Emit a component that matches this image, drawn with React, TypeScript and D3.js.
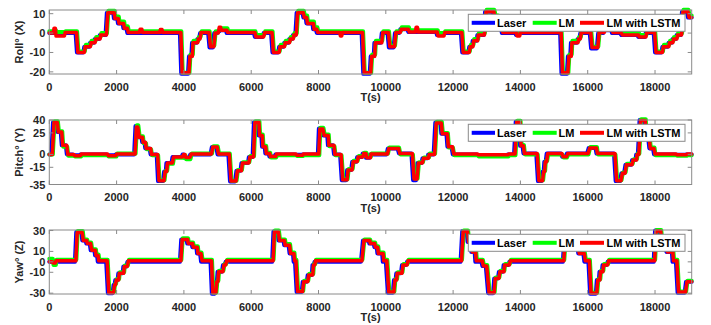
import React from "react";
import * as d3 from "d3";

// ---------- DATA (plateaus: [tStart, tEnd]) ----------
const xTicks = [0, 2000, 4000, 6000, 8000, 10000, 12000, 14000, 16000, 18000];
const xMax = 19090;
// time lag (s) of each estimate relative to the laser reference
const seriesLag = [0, 45, 30];

const rollTimes = [[0,90],[110,150],[170,420],[440,780],[820,1010],[1040,1190],[1210,1330],[1350,1480],[1500,1670],[1710,1900],[1920,2020],[2040,2180],[2200,2290],[2320,2650],[2670,2720],[2740,3250],[3270,3320],[3340,3880],[3920,4120],[4150,4220],[4240,4380],[4400,4450],[4480,4720],[4760,4860],[4900,4990],[5020,5060],[5080,5250],[5270,6080],[6110,6340],[6370,6590],[6630,6800],[6830,6960],[6980,7110],[7130,7220],[7240,7310],[7350,7520],[7550,7620],[7640,7820],[7840,7920],[7950,8600],[8620,8660],[8680,9280],[9330,9520],[9550,9640],[9660,9850],[9880,10050],[10090,10230],[10270,10400],[10430,10640],[10670,10850],[10870,10910],[10930,11500],[11520,11700],[11720,12230],[12270,12450],[12480,12560],[12580,12700],[12720,12900],[12950,13180],[13220,13300],[13320,13400],[13450,13850],[13870,13950],[13970,15180],[15220,15380],[15410,15480],[15500,15680],[15700,15750],[15780,16060],[16100,16270],[16310,16460],[16480,16700],[16720,16960],[17000,17480],[17500,17700],[17720,17960],[18000,18190],[18220,18380],[18400,18500],[18520,18620],[18640,18760],[18800,18950],[18980,19090]];
const rollLaser = [0,0,0,0,-10,-7,-5,-3,-1,10.5,7.5,5,2.5,0,0,0,0,0,-21,-12,-5,-3,0,-7.5,0,1,1.5,0,-2,0,-10,-7,-5,-3,-1,10.5,8,5,2,0,0,0,-21,-12,-5,0,-7.5,0,2,0.5,0.5,0.5,-1,0,-10,-7,-4,-1,11,8,4,0,-1,0,-21,-12,-5,-3,0,-8,0,1.5,0,-1,-2,0,-10,-7,-5,-3,-1,11,8];
const rollLM = [1,1.5,0.5,1,-9.5,-6,-4,-2,0,11.5,8.5,6,3.5,1,1,1,1,1,-20.5,-11,-4,-2,1,-6.5,1,2,2.5,1,-1,1,-9.5,-6,-4,-2,0,11.5,9,6,3,1,1,1,-20.5,-11,-4,1,-6.5,1,3,1.5,1.5,1.5,0,1,-9.5,-6,-3,0,12,9,5,1,0,1,-20.5,-11,-4,-2,1,-7,1,2.5,1,0,-1,1,-9.5,-6,-4,-2,0,12,9];
const rollLSTM = [0,2.5,-1.5,0.3,-10,-7,-5,-3,-1,10.5,7.5,5,2.5,0.3,2,0.3,1.8,0.3,-20.5,-12,-5,-3,0.3,-7,0,3,1.5,0.3,-2,0.3,-10,-7,-5,-3,-1,10.5,8,5,2,0.3,-1.5,0.3,-20.5,-12,-5,0.3,-7,0.3,2,0.5,3,0.5,-1.5,0.3,-10,-7,-4,-1,11,8,4,0.3,-1.5,0.3,-20.5,-12,-5,-3,0.3,-7.5,0.3,1.5,0.3,-1,-2,0.3,-10,-7,-5,-3,-1,11,8];

const pitchTimes = [[0,60],[110,210],[240,340],[370,490],[520,700],[720,900],[920,1700],[1720,1950],[1970,2520],[2560,2600],[2640,2740],[2760,2830],[2850,2980],[3010,3190],[3230,3380],[3410,3460],[3480,3630],[3660,3930],[3960,4000],[4020,4150],[4190,4790],[4830,4960],[5000,5320],[5370,5520],[5560,5680],[5710,5900],[5930,6040],[6080,6200],[6220,6300],[6320,6400],[6420,6520],[6540,6700],[6720,7300],[7320,7500],[7520,7980],[8010,8100],[8140,8260],[8280,8430],[8460,8640],[8690,8820],[8850,8970],[9000,9120],[9150,9290],[9310,9380],[9410,9510],[9530,10020],[10060,10350],[10390,10760],[10810,10900],[10940,11060],[11090,11240],[11260,11420],[11470,11620],[11650,11800],[11830,11950],[11990,12700],[12720,13600],[13620,13810],[13860,13960],[13990,14060],[14090,14470],[14520,14630],[14660,14690],[14710,14750],[14780,15200],[15240,15340],[15380,15980],[16030,16230],[16260,16780],[16830,16960],[17000,17080],[17120,17290],[17320,17420],[17440,17490],[17540,17680],[17710,17800],[17830,17940],[17970,18600],[18620,18900],[18920,19090]];
const pitchLaser = [0,37.5,26,10.5,0,-1,0,-1,0,33,20,14,7,0,-31,-20,-10,-3,0,-4,0,8.5,0,-31.5,-19,-10,-3,37.5,22,9,1,-2.5,0,-0.5,0,30,22,10.5,0,-30,-18,-8.5,-3,1,-4,0,7,1,-30,-10,-4.5,0,37,24,9,0,-1,0,38,10,1,-31,-20,-8.5,1,-2.7,1,7.5,1,-31,-22,-12,-6.5,0,40,18,7,0,-0.5,0];
const pitchLM = [0,38.5,27,9,-1.5,-2.5,-1,-2.5,1,34,21,13,6,-1,-30,-19,-11,-4,-1,-5.5,1,9.5,1,-30.5,-18,-9,-2,38.5,23,10,2,-3.5,-1,-2,-1,31,23,9.5,-1,-29,-17,-7.5,-2,2,-3,1,8,0,-28,-9,-3.5,1,38,25,8,-1,-2.5,-1,39,11,0,-30,-19,-7.5,0,-3.7,0,8.5,0,-30,-21,-11,-5.5,1,41,19,8,-1,-1.5,-1];
const pitchLSTM = [0,37,26,10.5,0,-1.5,0.5,-1.5,0.5,32,20,14,7,0,-30.5,-20,-10,-3,0,-3.5,0.5,8.5,0.5,-31,-19,-10,-3,37,22,9,1,-2.5,0.5,-1,0.5,29.5,22,10.5,0,-29.5,-18,-8.5,-3,1,-4,0.5,7,1,-28.5,-10,-4.5,0,36.5,24,9,0.5,-0.5,0.5,37.5,10,1,-30.5,-20,-8.5,1,-2.7,1,7.5,1,-30.5,-22,-12,-6.5,0,39.5,18,7,0.5,-0.5,0.5];

const yawTimes = [[0,60],[80,150],[170,760],[800,950],[980,1080],[1100,1200],[1230,1340],[1360,1420],[1440,1690],[1740,1880],[1910,1940],[1960,2030],[2050,2180],[2200,2290],[2320,3880],[3920,4080],[4100,4230],[4250,4370],[4390,4480],[4510,4790],[4830,4920],[4950,4980],[5000,5130],[5160,5210],[5240,6620],[6660,6780],[6810,6960],[6980,7110],[7140,7240],[7260,7300],[7350,7500],[7530,7650],[7680,7800],[7820,7860],[7880,9260],[9320,9490],[9510,9640],[9660,9730],[9750,9890],[9910,10000],[10060,10210],[10240,10290],[10310,10450],[10480,10600],[10630,12220],[12270,12400],[12430,12520],[12540,12640],[12660,12840],[12870,12970],[13040,13190],[13220,13330],[13360,13480],[13500,13640],[13670,15260],[15300,15450],[15470,15560],[15580,15700],[15720,15870],[15900,16020],[16070,16240],[16270,16330],[16350,16420],[16440,16560],[16590,17960],[18000,18140],[18170,18240],[18260,18320],[18340,18500],[18520,18620],[18670,18880],[18920,19090]];
const yawLaser = [0,0,0,28.5,20.5,17.5,11,6,0,-30,-22,-17.5,-11,-4.5,0,21.5,17.5,14,8,0,-30.5,-19,-9.5,-3,0,29,20.5,16,8,0,-29,-19,-12.5,-3,0,20.5,17.5,14,8,0,-29.5,-17.5,-11,-3,0,29.5,19,9.5,0,-4,-30,-16,-9.5,-3,0,21,17,13,8,0,-30.5,-17.5,-9.5,-3,0,30,20,15,9.5,0,-29.5,-19];
const yawLM = [3,-3,2,29.5,21.5,18.5,12,7,2,-29,-21,-16.5,-10,-3.5,2,22.5,18.5,15,9,2,-29.5,-18,-8.5,-2,2,30,21.5,17,9,2,-28,-18,-11.5,-2,2,21.5,18.5,15,9,2,-28.5,-16.5,-10,-2,2,30,20,10.5,2,-3,-29,-15,-8.5,-2,2,22,18,14,9,2,-29.5,-16.5,-8.5,-2,2,30.5,21,16,10.5,2,-28.5,-18];
const yawLSTM = [0,-1,1,28,20.5,17.5,11,6,1,-29.5,-22,-17.5,-11,-4.5,1,21.5,17.5,14,8,1,-29.5,-19,-9.5,-3,1,28.5,20.5,16,8,1,-28.5,-19,-12.5,-3,1,20.5,17.5,14,8,1,-29,-17.5,-11,-3,1,29,19,9.5,1,-4,-29.5,-16,-9.5,-3,1,21,17,13,8,1,-30,-17.5,-9.5,-3,1,29.5,20,15,9.5,1,-29,-19];

const seriesNames = ["Laser", "LM", "LM with LSTM"];
const seriesColors = ["#0000ff", "#00ff00", "#ff0000"];

// ---------- LAYOUT ----------
const W = 711, H = 325;
const left = 49.3, right = 691.7;

const panels = [
  { label: "Roll° (X)", times: rollTimes, vals: [rollLaser, rollLM, rollLSTM], domain: [-21.1, 11.9], ticks: [-20, -10, 0, 10], top: 10, bottom: 74 },
  { label: "Pitch° (Y)", times: pitchTimes, vals: [pitchLaser, pitchLM, pitchLSTM], domain: [-35, 40], ticks: [-35, -15, 0, 25, 40], top: 120, bottom: 184.5 },
  { label: "Yaw° (Z)", times: yawTimes, vals: [yawLaser, yawLM, yawLSTM], domain: [-30.8, 30.5], ticks: [-30, -10, 0, 10, 30], top: 230, bottom: 294 },
];

const axisColor = "#8a8a8a";
const textColor = "#262626";
const font = "'Liberation Sans', Arial, sans-serif";

function Panel({ p }: { p: any }) {
  const x = d3.scaleLinear().domain([0, xMax]).range([left, right]);
  const y = d3.scaleLinear().domain(p.domain).range([p.bottom, p.top]);
  const line = d3.line<[number, number]>().x(d => x(Math.min(d[0], xMax))).y(d => y(d[1]));
  const widths = [4, 4, 3.5];
  const legTop = p.top + 4.3, legH = 17, legMid = legTop + legH / 2;
  return (
    <g>
      {p.vals.map((vals: number[], si: number) => {
        const pts: [number, number][] = [];
        const lag = seriesLag[si];
        p.times.forEach((tt: number[], i: number) => {
          pts.push([i === 0 ? tt[0] : tt[0] + lag, vals[i]]);
          pts.push([tt[1] + lag, vals[i]]);
        });
        return <path key={si} d={line(pts) || ""} fill="none" stroke={seriesColors[si]} strokeWidth={widths[si]} strokeLinejoin="round" strokeLinecap="round" />;
      })}
      <rect x={left} y={p.top} width={right - left} height={p.bottom - p.top} fill="none" stroke={axisColor} strokeWidth={1} />
      {xTicks.map(t => (
        <g key={t}>
          <line x1={x(t)} x2={x(t)} y1={p.bottom} y2={p.bottom - 4} stroke={axisColor} />
          <line x1={x(t)} x2={x(t)} y1={p.top} y2={p.top + 4} stroke={axisColor} />
          <text x={x(t)} y={p.bottom + 16.5} textAnchor="middle" fontSize={11} fontWeight="bold" fill={textColor} fontFamily={font}>{t}</text>
        </g>
      ))}
      {p.ticks.map((v: number) => (
        <g key={v}>
          <line x1={left} x2={left + 4} y1={y(v)} y2={y(v)} stroke={axisColor} />
          <line x1={right} x2={right - 4} y1={y(v)} y2={y(v)} stroke={axisColor} />
          <text x={left - 4} y={y(v) + 4} textAnchor="end" fontSize={11} fontWeight="bold" fill={textColor} fontFamily={font}>{v}</text>
        </g>
      ))}
      <text x={(left + right) / 2} y={p.bottom + 27} textAnchor="middle" fontSize={11} fontWeight="bold" fill={textColor} fontFamily={font}>T(s)</text>
      <text transform={`translate(${23},${(p.top + p.bottom) / 2}) rotate(-90)`} textAnchor="middle" fontSize={11} fontWeight="bold" fill={textColor} fontFamily={font}>{p.label}</text>
      <g>
        <rect x={468.3} y={legTop} width={685 - 468.3} height={legH} fill="#fff" stroke={axisColor} strokeWidth={1} />
        {[
          { x1: 471.7, x2: 495, tx: 497 },
          { x1: 532.7, x2: 556.7, tx: 558.5 },
          { x1: 580, x2: 604, tx: 606.5 },
        ].map((it, i) => (
          <g key={i}>
            <line x1={it.x1} x2={it.x2} y1={legMid} y2={legMid} stroke={seriesColors[i]} strokeWidth={4} />
            <text x={it.tx} y={legMid + 4} fontSize={11} fontWeight="bold" fill="#000" fontFamily={font}>{seriesNames[i]}</text>
          </g>
        ))}
      </g>
    </g>
  );
}

export default function App() {
  return (
    <svg width={W} height={H} style={{ position: "absolute", left: 0, top: 0, background: "#fff" }}>
      <rect width={W} height={H} fill="#fff" />
      {panels.map((p, i) => <Panel key={i} p={p} />)}
    </svg>
  );
}
